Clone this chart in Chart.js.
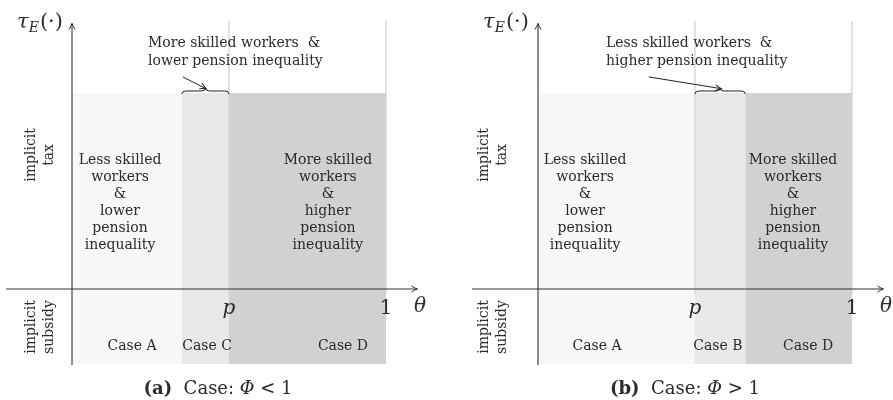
<!DOCTYPE html>
<html>
<head>
<meta charset="utf-8">
<script src="https://cdn.jsdelivr.net/npm/chart.js@4.4.1/dist/chart.umd.min.js"></script>
<style>
  html, body { margin: 0; padding: 0; background: #ffffff; }
  #wrap { position: relative; width: 893px; height: 400px; overflow: hidden; }
  canvas { position: absolute; top: 0; }
  #c1 { left: 0; }
  #c2 { left: 446px; }
</style>
</head>
<body>
<div id="wrap">
  <canvas id="c1" width="446" height="400"></canvas>
  <canvas id="c2" width="447" height="400"></canvas>
</div>
<script>
// ---------------- data ----------------
const panelLetters = ['(a)', '(b)'];
const captionRelations = ['<', '>'];
const edgesA = [0, 0.35, 0.5, 1];          // θ boundaries of Case A / C / D
const edgesB = [0, 0.5, 0.66, 1];          // θ boundaries of Case A / B / D
const casesA = ['Case A', 'Case C', 'Case D'];
const casesB = ['Case A', 'Case B', 'Case D'];
const pValue = 0.5;
const unitValue = 1;
const tickValues = [0.5, 1];
const tickLabels = ['p', '1'];
const shadeTop = 1;
const shadeBottom = -0.383;
const lessSkilledText = ['Less skilled', 'workers', '&', 'lower', 'pension', 'inequality'];
const moreSkilledText = ['More skilled', 'workers', '&', 'higher', 'pension', 'inequality'];
const noteA = ['More skilled workers  &', 'lower pension inequality'];
const noteB = ['Less skilled workers  &', 'higher pension inequality'];
const taxLabel = ['implicit', 'tax'];
const subsidyLabel = ['implicit', 'subsidy'];
const axisXLabel = 'θ';

// ---------------- styling ----------------
const shadeColors = ['#f7f7f7', '#e8e8e8', '#d1d1d1'];
const ink = '#2b2b2b';
const SERIF = '"DejaVu Serif", "Liberation Serif", serif';

function seg(x0, y0, x1, y1) { return [{x: x0, y: y0}, {x: x1, y: y1}]; }

function buildPanel(canvasId, idx, edges, cases, note, cfg) {
  const datasets = [];
  for (let i = 0; i < edges.length - 1; i++) {
    datasets.push({
      data: seg(edges[i], shadeTop, edges[i + 1], shadeTop),
      showLine: true, borderWidth: 0, pointRadius: 0,
      backgroundColor: shadeColors[i], borderColor: 'rgba(0,0,0,0)',
      fill: {value: shadeBottom}, order: 5
    });
  }
  tickValues.forEach(v => {
    datasets.push({
      data: seg(v, -0.025, v, 1.367),
      showLine: true, pointRadius: 0, borderWidth: 1.4,
      borderColor: '#d6d6d6', fill: false, order: 3
    });
  });
  // axes
  datasets.push({ data: seg(-0.21, 0, 1.1, 0), showLine: true, pointRadius: 0,
    borderWidth: 1.1, borderColor: '#333', fill: false, order: 1 });
  datasets.push({ data: seg(0, -0.388, 0, 1.355), showLine: true, pointRadius: 0,
    borderWidth: 1.1, borderColor: '#333', fill: false, order: 1 });

  const deco = {
    id: 'deco' + idx,
    afterDatasetsDraw(chart) {
      const ctx = chart.ctx;
      const xs = chart.scales.x, ys = chart.scales.y;
      const X = v => xs.getPixelForValue(v), Y = v => ys.getPixelForValue(v);
      ctx.save();
      ctx.fillStyle = ink; ctx.strokeStyle = '#333';

      // arrow heads of axes
      function head(tx, ty, ang) {
        ctx.save(); ctx.translate(tx, ty); ctx.rotate(ang);
        ctx.lineWidth = 1; ctx.beginPath();
        ctx.moveTo(-6, -3); ctx.quadraticCurveTo(-2, -0.6, 0, 0);
        ctx.quadraticCurveTo(-2, 0.6, -6, 3); ctx.stroke(); ctx.restore();
      }
      head(X(1.1), Y(0), 0);
      head(X(0), Y(1.355), -Math.PI / 2);

      // tick labels
      ctx.textAlign = 'center'; ctx.textBaseline = 'alphabetic';
      tickLabels.forEach((t, i) => {
        ctx.font = (t === 'p' ? 'italic ' : '') + '20px ' + SERIF;
        ctx.fillText(t, X(tickValues[i]), Y(-0.127));
      });
      ctx.font = 'italic 20px ' + SERIF;
      ctx.fillText(axisXLabel, X(1.108), Y(-0.118));

      // tau_E(.)
      let tx = X(-0.175); const tb = Y(1.33);
      ctx.textAlign = 'left';
      ctx.font = 'italic 21px ' + SERIF; ctx.fillText('τ', tx, tb); tx += ctx.measureText('τ').width;
      ctx.font = 'italic 14px ' + SERIF; ctx.fillText('E', tx, tb + 4); tx += ctx.measureText('E').width + 1;
      ctx.font = '21px ' + SERIF; ctx.fillText('(·)', tx, tb);

      // rotated side labels
      ctx.font = '14px ' + SERIF; ctx.textAlign = 'center'; ctx.textBaseline = 'middle';
      [[taxLabel, 0.684], [subsidyLabel, -0.194]].forEach(([lines, yv]) => {
        ctx.save(); ctx.translate(X(cfg.sideX), Y(yv)); ctx.rotate(-Math.PI / 2);
        ctx.fillText(lines[0], 0, -9); ctx.fillText(lines[1], 0, 9);
        ctx.restore();
      });

      // region descriptions
      ctx.font = '14px ' + SERIF;
      [[lessSkilledText, cfg.leftTextX], [moreSkilledText, cfg.rightTextX]].forEach(([lines, xv]) => {
        lines.forEach((l, i) => ctx.fillText(l, X(xv), Y(0.658 - 0.0872 * i)));
      });

      // case labels
      cases.forEach((c, i) => ctx.fillText(c, X(cfg.caseX[i]), Y(-0.291)));

      // note above
      ctx.textAlign = 'left';
      note.forEach((l, i) => ctx.fillText(l, X(cfg.noteX), Y(1.255 - 0.092 * i)));

      // note arrow
      const ax0 = X(0.353), ay0 = Y(1.082), ax1 = X(cfg.arrowEnd), ay1 = Y(1.022);
      ctx.lineWidth = 1; ctx.strokeStyle = '#222';
      ctx.beginPath(); ctx.moveTo(ax0, ay0); ctx.lineTo(ax1, ay1); ctx.stroke();
      head(ax1, ay1, Math.atan2(ay1 - ay0, ax1 - ax0));

      // brace over middle region
      const bx1 = X(edges[1]), bx2 = X(edges[2]), by = Y(shadeTop) + 1, h = 6, r = 4;
      const mid = (bx1 + bx2) / 2, ym = by - h / 2;
      ctx.beginPath();
      ctx.moveTo(bx1, by);
      ctx.quadraticCurveTo(bx1, ym, bx1 + r, ym);
      ctx.lineTo(mid - r, ym);
      ctx.quadraticCurveTo(mid, ym, mid, by - h);
      ctx.quadraticCurveTo(mid, ym, mid + r, ym);
      ctx.lineTo(bx2 - r, ym);
      ctx.quadraticCurveTo(bx2, ym, bx2, by);
      ctx.stroke();

      // caption
      const parts = [
        {t: panelLetters[idx], f: 'bold 18px ' + SERIF},
        {t: '  Case: ', f: '18px ' + SERIF},
        {t: 'Φ', f: 'italic 18px ' + SERIF},
        {t: ' ' + captionRelations[idx] + ' 1', f: '18px ' + SERIF}
      ];
      let tot = 0;
      parts.forEach(p => { ctx.font = p.f; p.w = ctx.measureText(p.t).width; tot += p.w; });
      let cx = X(cfg.captionX) - tot / 2;
      ctx.textBaseline = 'alphabetic';
      parts.forEach(p => { ctx.font = p.f; ctx.fillText(p.t, cx, Y(-0.536)); cx += p.w; });

      ctx.restore();
    }
  };

  return new Chart(document.getElementById(canvasId), {
    type: 'scatter',
    data: { datasets },
    options: {
      responsive: false, animation: false, devicePixelRatio: 1,
      layout: { padding: 0 },
      plugins: { legend: { display: false }, tooltip: { enabled: false } },
      scales: {
        x: { type: 'linear', display: false, min: cfg.xMin, max: cfg.xMax },
        y: { type: 'linear', display: false, min: -0.5663, max: 1.4745 }
      },
      elements: { line: { tension: 0 } }
    },
    plugins: [deco]
  });
}

buildPanel('c1', 0, edgesA, casesA, noteA, {
  xMin: -0.2293, xMax: 1.19108, sideX: -0.102,
  leftTextX: 0.153, rightTextX: 0.815,
  caseX: [0.191, 0.43, 0.863], noteX: 0.242, arrowEnd: 0.427, captionX: 0.465
});
buildPanel('c2', 1, edgesB, casesB, noteB, {
  xMin: -0.29299, xMax: 1.13057, sideX: -0.143,
  leftTextX: 0.15, rightTextX: 0.812,
  caseX: [0.188, 0.573, 0.86], noteX: 0.2166, arrowEnd: 0.584, captionX: 0.468
});
</script>
</body>
</html>
